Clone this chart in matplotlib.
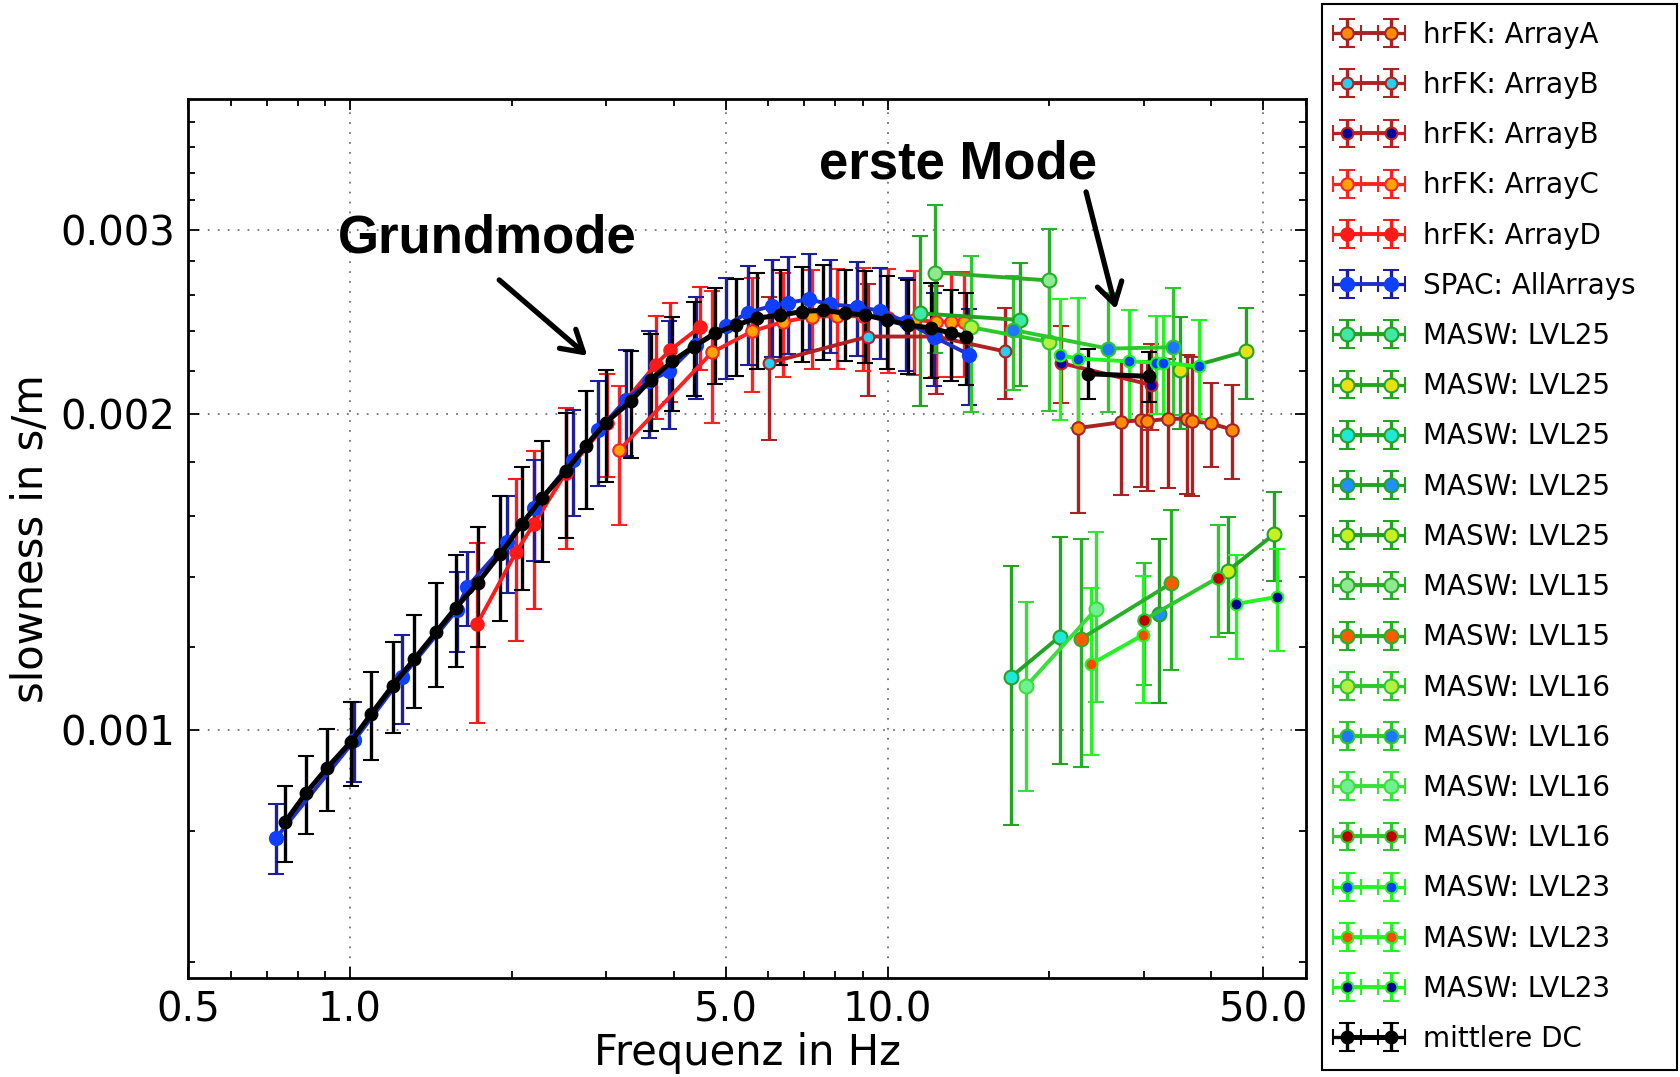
import matplotlib
matplotlib.use('Agg')
import matplotlib.pyplot as plt
from matplotlib.ticker import FixedLocator, FixedFormatter, NullFormatter, LogLocator

# mittlere Dispersionskurve (Grundmode)
dc_f = [0.757, 0.829, 0.906, 1.003, 1.096, 1.202, 1.318, 1.447, 1.576, 1.728, 1.902,
        2.089, 2.281, 2.521, 2.746, 2.991, 3.328, 3.625, 3.976, 4.362, 4.786, 5.226,
        5.716, 6.318, 6.926, 7.600, 8.340, 9.083, 9.96, 10.93, 12.07, 13.15, 14.02]
dc_s = [0.000816, 0.00087, 0.000919, 0.000973, 0.001035, 0.001102, 0.001168, 0.001239,
        0.001308, 0.00138, 0.00147, 0.00157, 0.001665, 0.001765, 0.001864, 0.001963,
        0.002057, 0.002157, 0.002246, 0.00232, 0.002389, 0.002433, 0.002469, 0.002487,
        0.002505, 0.002514, 0.002496, 0.002487, 0.00246, 0.002433, 0.002416, 0.002389, 0.002372]
dc_e = [0.000068, 0.000074, 0.000082, 0.00009, 0.0001, 0.00011, 0.00012, 0.00014,
        0.00016, 0.00018, 0.0002, 0.00021, 0.00022, 0.00024, 0.00024, 0.00024,
        0.00024, 0.00023, 0.00023, 0.00024, 0.00025, 0.00026, 0.00026, 0.00026,
        0.00026, 0.00026, 0.00025, 0.00025, 0.00025, 0.00025, 0.00025, 0.00024, 0.00024]
# mittlere DC, erste Mode
dc1_f = [23.57, 30.7]
dc1_s = [0.002186, 0.002173]
dc1_e = [0.00012, 0.00012]

# SPAC
spac_f = [0.73, 1.02, 1.25, 1.58, 1.65, 1.96, 2.2, 2.6, 2.9, 3.26, 3.6, 3.92, 4.4, 5.0,
          5.5, 6.09, 6.54, 7.13, 7.82, 8.76, 9.7, 10.8, 12.2, 14.2]
spac_s = [0.000789, 0.000977, 0.001122, 0.0013, 0.001367, 0.00151, 0.001628, 0.00181,
          0.00193, 0.002065, 0.00215, 0.002197, 0.00233, 0.00243, 0.0025, 0.002537,
          0.002555, 0.002574, 0.002546, 0.002533, 0.00251, 0.00245, 0.00237, 0.002279]
spac_e = [0.00006, 0.000085, 0.00011, 0.000115, 0.00011, 0.00016, 0.00018, 0.00021,
          0.00022, 0.00024, 0.00025, 0.00026, 0.00026, 0.00027, 0.00027, 0.00027,
          0.00027, 0.00027, 0.00026, 0.00026, 0.00025, 0.00025, 0.00024, 0.00024]

# hrFK
fkA_f = [22.6, 27.2, 29.6, 30.4, 33.2, 36.0, 36.8, 39.9, 43.8]
fkA_s = [0.00194, 0.001965, 0.001975, 0.00197, 0.00198, 0.00198, 0.00197, 0.00196, 0.001933]
fkA_e = [0.00033, 0.00029, 0.00027, 0.00028, 0.00028, 0.0003, 0.0003, 0.00018, 0.0002]
fkB1_f = [6.01, 9.21, 12.3, 16.51]
fkB1_s = [0.002238, 0.002372, 0.002372, 0.002296]
fkB1_e = [0.00035, 0.00029, 0.00028, 0.00023]
fkB2_f = [21.0, 30.9]
fkB2_s = [0.002238, 0.002133]
fkB2_e = [0.00019, 0.0002]
fkC_f = [3.166, 4.717, 5.6, 6.4, 7.23, 8.04, 9.0, 10.0, 11.2, 12.3, 13.15, 13.9]
fkC_s = [0.001847, 0.002291, 0.0024, 0.00245, 0.002478, 0.00248, 0.00248, 0.00247,
         0.00246, 0.00245, 0.002451, 0.002451]
fkC_e = [0.00028, 0.00033, 0.0003, 0.00028, 0.00027, 0.00027, 0.00028, 0.00028,
         0.00028, 0.00028, 0.00028, 0.00028]
fkD_f = [1.724, 2.036, 2.202, 2.521, 3.012, 3.703, 3.948, 4.488]
fkD_s = [0.001261, 0.001476, 0.001573, 0.001758, 0.001963, 0.00223, 0.002304, 0.002424]
fkD_e = [0.000245, 0.00026, 0.00027, 0.00027, 0.00022, 0.00025, 0.00025, 0.00022]

# MASW
m25a_f, m25a_s, m25a_e = [11.48, 17.6], [0.002496, 0.00246], [0.00046, 0.00033]
m25b_f, m25b_s, m25b_e = [35.0, 46.4], [0.002205, 0.002296], [0.00027, 0.00023]
m25c_f, m25c_s, m25c_e = [16.94, 20.9], [0.001122, 0.001227], [0.00031, 0.0003]
m25d_f, m25d_s, m25d_e = [32.0], [0.00129], [0.00023]
m25e_f, m25e_s, m25e_e = [42.9, 52.3], [0.001417, 0.001536], [0.00018, 0.00015]
m15a_f, m15a_s, m15a_e = [12.25, 20.0], [0.00273, 0.002683], [0.00044, 0.00032]
m15b_f, m15b_s, m15b_e = [22.9, 33.65], [0.001221, 0.001379], [0.0003, 0.00024]
m16a_f, m16a_s, m16a_e = [14.31, 20.0], [0.002421, 0.002343], [0.00041, 0.00033]
m16b_f, m16b_s, m16b_e = [17.1, 25.7, 33.9], [0.002407, 0.00231, 0.002317], [0.0003, 0.0003, 0.00032]
m16c_f, m16c_s, m16c_e = [18.1, 24.4], [0.0011, 0.001303], [0.000225, 0.00024]
m16d_f, m16d_s, m16d_e = [30.0, 41.2], [0.001273, 0.001397], [0.00017, 0.00017]
m23a_f = [20.9, 22.6, 28.1, 31.6, 32.5, 38.0]
m23a_s = [0.002276, 0.00226, 0.002246, 0.00224, 0.00224, 0.002221]
m23a_e = [0.0003, 0.00032, 0.00027, 0.00024, 0.00024, 0.00024]
m23b_f, m23b_s, m23b_e = [23.9, 29.8], [0.001155, 0.001231], [0.00021, 0.00017]
m23c_f, m23c_s, m23c_e = [44.4, 53.1], [0.001318, 0.001339], [0.00015, 0.00015]

fig = plt.figure(figsize=(16.81, 10.77), dpi=100)
ax = fig.add_axes([0.1118, 0.0922, 0.6651, 0.8162])
ax.set_xscale('log')
ax.set_yscale('log')


def draw(f, s, e, label, color, mfc, ecolor=None, lw=2.8, ms=9, mec=None):
    ax.errorbar(f, s, yerr=e, xerr=0, color=color, ecolor=ecolor or color, lw=lw,
                elinewidth=2.4, capsize=5.5, capthick=2.4, marker='o', ms=ms,
                mfc=mfc, mec=mec or color, mew=1.5, label=label)


g25 = '#22a322'
g15 = '#27b027'
g16 = '#2cc82c'
g16b = '#3ae03a'
g23 = '#22f522'

draw(fkA_f, fkA_s, fkA_e, 'hrFK: ArrayA', '#a82222', '#ff8c00')
draw(fkB1_f, fkB1_s, fkB1_e, 'hrFK: ArrayB', '#b02222', '#22d0f0', ms=8.5)
draw(fkB2_f, fkB2_s, fkB2_e, 'hrFK: ArrayB', '#bb2222', '#0000a0', ms=8.5)
draw(fkC_f, fkC_s, fkC_e, 'hrFK: ArrayC', '#ff2222', '#ffa500')
draw(fkD_f, fkD_s, fkD_e, 'hrFK: ArrayD', '#ff1a1a', '#ff1a1a')
draw(spac_f, spac_s, spac_e, 'SPAC: AllArrays', '#2030c8', '#0f40ff', ecolor='#1e1e9a',
     ms=9.5, mec='#0f40ff')
draw(m25a_f, m25a_s, m25a_e, 'MASW: LVL25', g25, '#40e8a8', ms=10)
draw(m25b_f, m25b_s, m25b_e, 'MASW: LVL25', g25, '#e8e010', ms=10)
draw(m25c_f, m25c_s, m25c_e, 'MASW: LVL25', g25, '#20e8d8', ms=10)
draw(m25d_f, m25d_s, m25d_e, 'MASW: LVL25', g25, '#1e90ff', ms=10)
draw(m25e_f, m25e_s, m25e_e, 'MASW: LVL25', g25, '#c8f020', ms=10)
draw(m15a_f, m15a_s, m15a_e, 'MASW: LVL15', g15, '#90e890', ms=10)
draw(m15b_f, m15b_s, m15b_e, 'MASW: LVL15', g15, '#ff5a00', ms=10)
draw(m16a_f, m16a_s, m16a_e, 'MASW: LVL16', g16, '#b4f040', ms=10)
draw(m16b_f, m16b_s, m16b_e, 'MASW: LVL16', g16, '#1e78ff', ms=10)
draw(m16c_f, m16c_s, m16c_e, 'MASW: LVL16', g16b, '#70f090', ms=10)
draw(m16d_f, m16d_s, m16d_e, 'MASW: LVL16', g16, '#c00000', ms=9)
draw(m23a_f, m23a_s, m23a_e, 'MASW: LVL23', g23, '#0040ff', ms=8.5)
draw(m23b_f, m23b_s, m23b_e, 'MASW: LVL23', g23, '#ff4800', ms=8.5)
draw(m23c_f, m23c_s, m23c_e, 'MASW: LVL23', g23, '#000090', ms=8.5)
draw(dc_f, dc_s, dc_e, 'mittlere DC', 'k', 'k', lw=3.6, ms=8.5)
draw(dc1_f, dc1_s, dc1_e, '_nolegend_', 'k', 'k', lw=3.6, ms=8.5)

ax.set_xlim(0.5, 60)
ax.set_ylim(0.00058, 0.004)
ax.xaxis.set_major_locator(FixedLocator([0.5, 1, 5, 10, 50]))
ax.xaxis.set_major_formatter(FixedFormatter(['0.5', '1.0', '5.0', '10.0', '50.0']))
ax.xaxis.set_minor_locator(LogLocator(base=10, subs=(2, 3, 4, 5, 6, 7, 8, 9)))
ax.xaxis.set_minor_formatter(NullFormatter())
ax.yaxis.set_major_locator(FixedLocator([0.001, 0.002, 0.003]))
ax.yaxis.set_major_formatter(FixedFormatter(['0.001', '0.002', '0.003']))
ax.yaxis.set_minor_locator(FixedLocator([0.0006, 0.0008, 0.0012, 0.0014, 0.0016, 0.0018,
                                         0.0022, 0.0024, 0.0026, 0.0028, 0.0032, 0.0034,
                                         0.0036, 0.0038]))
ax.yaxis.set_minor_formatter(NullFormatter())

ax.tick_params(which='both', direction='in', top=True, right=True, labelsize=29, width=1.3)
ax.tick_params(which='major', length=8, pad=9)
ax.tick_params(which='minor', length=5)
for sp in ax.spines.values():
    sp.set_linewidth(2)
ax.grid(True, which='major', color='0.45', linestyle=(0, (1, 4.5)), lw=1.3)

ax.set_xlabel('Frequenz in Hz', fontsize=30, labelpad=1)
ax.set_ylabel('slowness in s/m', fontsize=30, labelpad=6)

bold = dict(fontsize=38, fontweight='bold', family=['Liberation Sans', 'DejaVu Sans'])
ax.text(0.949, 0.002855, 'Grundmode', ha='left', va='baseline', **bold)
ax.text(7.47, 0.00336, 'erste Mode', ha='left', va='baseline', **bold)
arrow = dict(arrowstyle='->,head_length=0.75,head_width=0.45', lw=3.8, color='k',
             shrinkA=0, shrinkB=0, mutation_scale=20)
ax.annotate('', xy=(2.765, 0.002274), xytext=(1.896, 0.002686), arrowprops=arrow)
ax.annotate('', xy=(26.6, 0.002519), xytext=(23.4, 0.003259), arrowprops=arrow)

leg_x0 = 1322 / 1681
leg_top = 1 - 4 / 1077
leg = ax.legend(loc='upper left', mode='expand',
                bbox_to_anchor=(leg_x0, 0.0, 1677 / 1681 - leg_x0, leg_top),
                bbox_transform=fig.transFigure, borderaxespad=0, numpoints=2,
                fontsize=20, labelspacing=0.80, handlelength=2.2, handletextpad=0.83,
                borderpad=0.6, fancybox=False, framealpha=1)
leg.get_frame().set_edgecolor('k')
leg.get_frame().set_linewidth(1.5)

fig.savefig('out.png', dpi=100)
